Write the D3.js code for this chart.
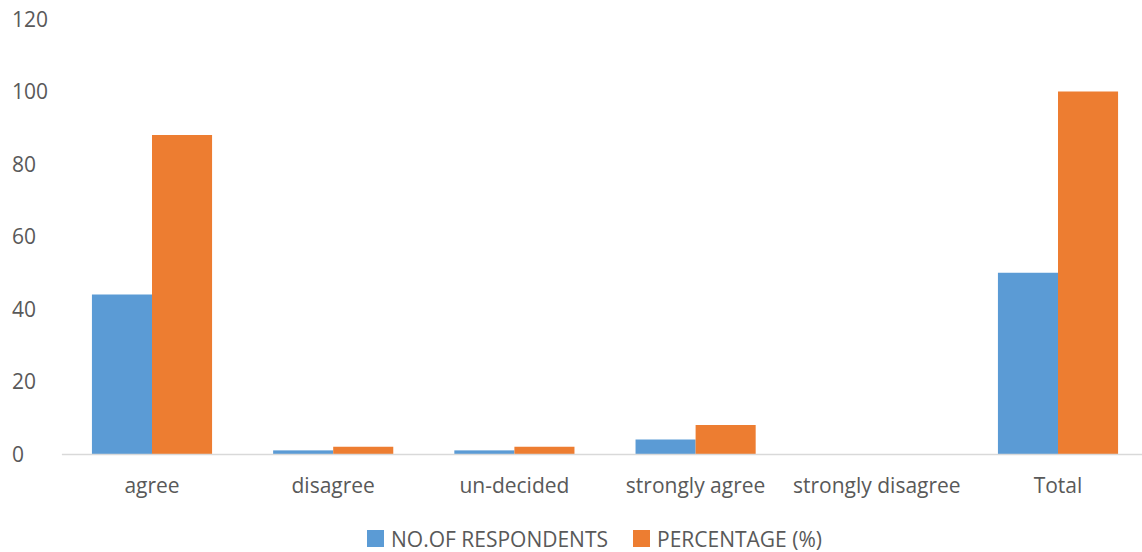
<!DOCTYPE html>
<html>
<head>
<meta charset="utf-8">
<script src="https://cdn.jsdelivr.net/npm/d3@7"></script>
<style>
body{margin:0;background:#fff;}
text{font-family:"Open Sans","Noto Sans",sans-serif;fill:#595959;}
</style>
</head>
<body>
<svg width="1142" height="552"></svg>
<script>
// data
var categories=['agree','disagree','un-decided','strongly agree','strongly disagree','Total'];
var respondents=[44,1,1,4,0,50];
var percentage=[88,2,2,8,0,100];
var seriesNames=['NO.OF RESPONDENTS','PERCENTAGE (%)'];
var yTicks=[0,20,40,60,80,100,120];
var colors=['#5B9BD5','#ED7D31'];

var FS='21px';
var svg=d3.select('svg');
var x0=d3.scaleBand().domain(categories).range([61.4,1148.6]).paddingInner(0.337).paddingOuter(0.1685);
var x1=d3.scaleBand().domain([0,1]).range([0,x0.bandwidth()]);
var y=d3.scaleLinear().domain([0,120]).range([454,19]);

// y labels (left aligned)
svg.append('g').selectAll('text').data(yTicks).enter().append('text')
	.attr('x',12).attr('y',function(d){return y(d);}).attr('dy','0.36em')
	.style('font-size',FS).text(function(d){return d;});

// bars
var rows=categories.map(function(c,i){return {cat:c,vals:[respondents[i],percentage[i]]};});
var g=svg.append('g').selectAll('g').data(rows).enter().append('g')
	.attr('transform',function(d){return 'translate('+x0(d.cat)+',0)';});
g.selectAll('rect').data(function(d){return d.vals;}).enter().append('rect')
	.attr('x',function(d,i){return x1(i);}).attr('width',x1.bandwidth())
	.attr('y',function(d){return y(d);}).attr('height',function(d){return y(0)-y(d);})
	.attr('fill',function(d,i){return colors[i];});

// x axis
var xAxis=svg.append('g').attr('transform','translate(0,'+y(0)+')')
	.call(d3.axisBottom(x0).tickSize(0).tickPadding(24));
xAxis.select('.domain').attr('stroke','#D9D9D9').attr('stroke-width',1.3);
xAxis.selectAll('text').style('font-size',FS).attr('fill','#595959')
	.style('font-family','"Open Sans","Noto Sans",sans-serif');

// legend
var leg=[{x:367,tx:391},{x:633,tx:657}];
var lg=svg.append('g').selectAll('g').data(seriesNames).enter().append('g');
lg.append('rect').attr('x',function(d,i){return leg[i].x;}).attr('y',530)
	.attr('width',17).attr('height',17).attr('fill',function(d,i){return colors[i];});
lg.append('text').attr('x',function(d,i){return leg[i].tx;}).attr('y',547)
	.style('font-size',FS).text(function(d){return d;});
</script>
</body>
</html>
